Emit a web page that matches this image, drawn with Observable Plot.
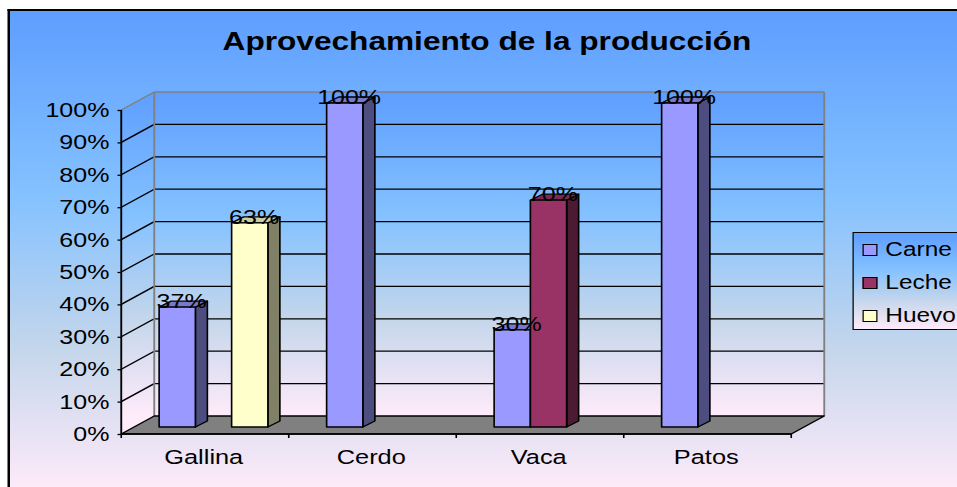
<!DOCTYPE html>
<html>
<head>
<meta charset="utf-8">
<script src="https://cdn.jsdelivr.net/npm/d3@7"></script>
<script src="https://cdn.jsdelivr.net/npm/@observablehq/plot@0.6"></script>
<style>
  html, body { margin: 0; padding: 0; background: #fff; overflow: hidden; }
  #wrap { position: relative; width: 957px; height: 487px; overflow: hidden; background: #fff; }
  #stage { position: absolute; left: 0; top: 0; width: 766px; height: 487px;
           transform: scaleX(1.25); transform-origin: 0 0;
           font-family: "Liberation Sans", Arial, sans-serif; color: #000; }
  #bg { position: absolute; left: 6px; top: 9.3px; width: 820px; height: 482px;
        border-left: 2px solid #000; border-top: 2px solid #000;
        background: linear-gradient(to bottom, #5E9EFF 0%, #85C2FF 39%, #C4D6EB 70%, #FFEBFA 100%); }
  #title { position: absolute; left: 89.6px; top: 28.6px; width: 600px; text-align: center;
           font-weight: bold; font-size: 25.3px; line-height: 25.3px; white-space: nowrap; }
  #chart { position: absolute; left: 0; top: 0; }
  #legend { position: absolute; left: 682px; top: 232.3px; width: 120px; height: 98px; box-sizing: border-box;
            border: 1.5px solid #000;
            background: linear-gradient(to bottom, #5E9EFF 0%, #85C2FF 39%, #C4D6EB 70%, #FFEBFA 100%); }
  .sw { position: absolute; left: 6.5px; width: 12.8px; height: 12px; box-sizing: border-box; border: 1.4px solid #000; }
  .lt { position: absolute; left: 25.3px; font-size: 19.5px; line-height: 19.5px; white-space: nowrap; }
</style>
</head>
<body>
<div id="wrap">
  <div id="stage">
    <div id="bg"></div>
    <div id="title">Aprovechamiento de la producción</div>
    <div id="chart"></div>
    <div id="legend"></div>
  </div>
</div>
<script>
// ---- data ----
const categories = ["Gallina", "Cerdo", "Vaca", "Patos"];
const series = ["Carne", "Leche", "Huevo"];
const carne = [0.37, 1.00, 0.30, 1.00];
const leche = [null, null, 0.70, null];
const huevo = [0.63, null, null, null];
const yTicks = [0, 0.1, 0.2, 0.3, 0.4, 0.5, 0.6, 0.7, 0.8, 0.9, 1.0];
const chartTitle = "Aprovechamiento de la producción";

// ---- styles ----
const frontColors = ["#9999FF", "#993366", "#FFFFCC"];
const sideColors  = ["#4D4D80", "#4D1A33", "#808066"];
const topColors   = ["#7878CC", "#7A2952", "#CCCCA3"];
const daybreak = [[0, "#5E9EFF"], [0.39, "#85C2FF"], [0.70, "#C4D6EB"], [1, "#FFEBFA"]];

const W = 766, H = 487;
const ML = 96, MR = 132.4, MT = 110, MB = 53;
const DEPTH = {dx: 26.4, dy: -18};                  // wall depth offset
const BAR = {dx0: 10.3, dy0: -7, ddx: 9.6, ddy: -6}; // bar front offset & bar depth

const valuesBySeries = [carne, leche, huevo];
const rows = [];
categories.forEach((cat, i) => {
  series.forEach((s, k) => {
    const v = valuesBySeries[k][i];
    if (v != null) rows.push({cat, series: s, value: v});
  });
});
const pct = d3.format(".0%");

function walls(index, scales, values, dimensions) {
  const y = scales.y;
  const x0 = dimensions.marginLeft, x1 = dimensions.width - dimensions.marginRight;
  const {dx, dy} = DEPTH;
  const g = d3.create("svg:g").attr("class", "walls");
  const defs = g.append("defs");
  const lg = defs.append("linearGradient").attr("id", "wallGrad")
    .attr("gradientUnits", "userSpaceOnUse")
    .attr("x1", 0).attr("x2", 0).attr("y1", y(1) + dy).attr("y2", y(0) + dy);
  daybreak.forEach(([o, c]) => lg.append("stop").attr("offset", o).attr("stop-color", c));
  g.append("rect").attr("x", x0 + dx).attr("y", y(1) + dy)
    .attr("width", x1 - x0).attr("height", y(0) - y(1))
    .attr("fill", "url(#wallGrad)");
  g.append("polygon").attr("points", [[x0, y(1)], [x0 + dx, y(1) + dy], [x0 + dx, y(0) + dy], [x0, y(0)]].join(" "))
    .attr("fill", "url(#wallGrad)");
  for (const v of yTicks) {
    if (v === 0) continue;
    const col = v === 1 ? "#808080" : "#000";
    const w = v === 1 ? 1.5 : 1.3;
    g.append("line").attr("x1", x0 + dx).attr("x2", x1 + dx).attr("y1", y(v) + dy).attr("y2", y(v) + dy)
      .attr("stroke", col).attr("stroke-width", w);
    g.append("line").attr("x1", x0).attr("x2", x0 + dx).attr("y1", y(v)).attr("y2", y(v) + dy)
      .attr("stroke", col).attr("stroke-width", w);
  }
  g.append("line").attr("x1", x0 + dx).attr("x2", x0 + dx).attr("y1", y(1) + dy).attr("y2", y(0) + dy)
    .attr("stroke", "#808080").attr("stroke-width", 1.5);
  g.append("line").attr("x1", x1 + dx).attr("x2", x1 + dx).attr("y1", y(1) + dy).attr("y2", y(0) + dy)
    .attr("stroke", "#808080").attr("stroke-width", 1.5);
  g.append("polygon").attr("points", [[x0, y(0)], [x1, y(0)], [x1 + dx, y(0) + dy], [x0 + dx, y(0) + dy]].join(" "))
    .attr("fill", "#808080").attr("stroke", "#000").attr("stroke-width", 1.3).attr("stroke-linejoin", "round");
  g.append("line").attr("x1", x0).attr("x2", x0).attr("y1", y(0)).attr("y2", y(1))
    .attr("stroke", "#000").attr("stroke-width", 1.5);
  g.append("line").attr("x1", x0).attr("x2", x1).attr("y1", y(0)).attr("y2", y(0))
    .attr("stroke", "#000").attr("stroke-width", 1.5);
  const bounds = [];
  if (scales.fx) {
    for (const c of categories) bounds.push(scales.fx(c));
    bounds.push(scales.fx(categories[categories.length - 1]) + scales.fx.bandwidth());
  } else {
    for (let k = 0; k <= categories.length; k++) bounds.push(x0 + k * (x1 - x0) / categories.length);
  }
  for (const b of bounds) {
    g.append("line").attr("x1", b).attr("x2", b).attr("y1", y(0)).attr("y2", y(0) + 4)
      .attr("stroke", "#000").attr("stroke-width", 1.3);
  }
  return g.node();
}

function bars3D(index, scales, values) {
  const g = d3.create("svg:g").attr("class", "bars3d");
  const bw = scales.x.bandwidth();
  const X = values.x, Y1 = values.y1, Y2 = values.y2;
  for (const i of index) {
    const s = series.indexOf(rows[i].series);
    const xl = X[i] + BAR.dx0, xr = xl + bw;
    const yb = Math.max(Y1[i], Y2[i]) + BAR.dy0, yt = Math.min(Y1[i], Y2[i]) + BAR.dy0;
    const common = (sel) => sel.attr("stroke", "#000").attr("stroke-width", 1.3).attr("stroke-linejoin", "round");
    common(g.append("polygon")
      .attr("points", [[xr, yt], [xr + BAR.ddx, yt + BAR.ddy], [xr + BAR.ddx, yb + BAR.ddy], [xr, yb]].join(" "))
      .attr("fill", sideColors[s]));
    common(g.append("polygon")
      .attr("points", [[xl, yt], [xl + BAR.ddx, yt + BAR.ddy], [xr + BAR.ddx, yt + BAR.ddy], [xr, yt]].join(" "))
      .attr("fill", topColors[s]));
    common(g.append("rect").attr("x", xl).attr("y", yt).attr("width", bw).attr("height", yb - yt)
      .attr("fill", frontColors[s]));
  }
  return g.node();
}

const chart = Plot.plot({
  width: W, height: H,
  marginLeft: ML, marginRight: MR, marginTop: MT, marginBottom: MB,
  style: {background: "transparent", fontFamily: "'Liberation Sans', Arial, sans-serif", overflow: "visible", color: "#000"},
  fx: {domain: categories, padding: 0, axis: null, label: null},
  x: {domain: series, paddingInner: 0, paddingOuter: 0.77, align: 0.43, axis: null},
  y: {domain: [0, 1], axis: null},
  marks: [
    Plot.frame({facet: "super", render: walls}),
    Plot.axisY(yTicks, {tickFormat: pct, tickSize: 3, tickPadding: 7, fontSize: 20,
                        facetAnchor: "left", label: null, strokeWidth: 1.3}),
    Plot.axisFx({anchor: "bottom", tickSize: 0, tickPadding: 15, fontSize: 20.3, label: null, dx: -1.5}),
    Plot.barY(rows, {fx: "cat", x: "series", y: "value", render: bars3D}),
    Plot.text(rows, {fx: "cat", x: "series", y: "value", text: d => pct(d.value),
                     dx: BAR.dx0 + 3, dy: -13, fontSize: 20, fill: "#000"})
  ]
});
const wallsNode = chart.querySelector("g.walls");
if (wallsNode) {
  const firstG = Array.from(chart.children).find(n => n.tagName.toLowerCase() === "g");
  if (firstG && firstG !== wallsNode) chart.insertBefore(wallsNode, firstG);
}
document.getElementById("chart").appendChild(chart);

const legend = document.getElementById("legend");
series.forEach((s, k) => {
  const sw = document.createElement("div");
  sw.className = "sw";
  sw.style.top = (10.5 + 33 * k) + "px";
  sw.style.background = frontColors[k];
  legend.appendChild(sw);
  const t = document.createElement("div");
  t.className = "lt";
  t.style.top = (7 + 33 * k) + "px";
  t.textContent = s;
  legend.appendChild(t);
});
document.getElementById("title").textContent = chartTitle;
</script>
</body>
</html>
